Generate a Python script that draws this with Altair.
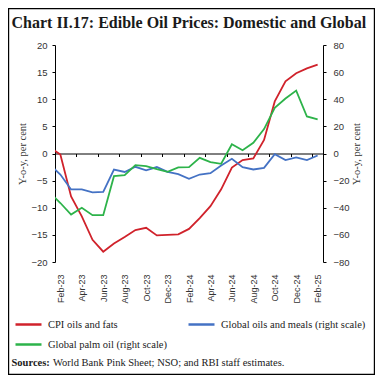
import altair as alt
import pandas as pd

# ---- data ----
months = ["Jan-23", "Feb-23", "Mar-23", "Apr-23", "May-23", "Jun-23", "Jul-23", "Aug-23",
          "Sep-23", "Oct-23", "Nov-23", "Dec-23", "Jan-24", "Feb-24", "Mar-24", "Apr-24",
          "May-24", "Jun-24", "Jul-24", "Aug-24", "Sep-24", "Oct-24", "Nov-24", "Dec-24",
          "Jan-25", "Feb-25"]
cpi_oils_fats = [1.2, -0.2, -7.9, -11.6, -15.9, -18.1, -16.6, -15.4, -14.1, -13.7, -15.1, -15.0,
                 -14.9, -13.9, -11.9, -9.7, -6.6, -2.6, -1.2, -0.9, 2.5, 9.6, 13.3, 14.8, 15.7, 16.4]
global_oils_meals = [-8.0, -15.5, -26.5, -26.5, -28.7, -28.3, -11.8, -13.6, -9.8, -12.4, -10.0, -13.5,
                     -15.2, -18.7, -15.5, -14.5, -8.8, -3.9, -10.1, -11.8, -10.6, -0.5, -4.9, -2.9,
                     -4.9, -1.5]
global_palm_oil = [-28.7, -36.5, -45.0, -40.0, -45.5, -45.5, -16.7, -16.0, -8.6, -9.3, -11.5, -13.5,
                   -10.3, -10.0, -3.2, -6.4, -7.6, 6.8, 2.4, 7.9, 18.0, 33.7, 40.5, 46.4, 27.3, 25.1]

series_cpi = "CPI oils and fats"
series_meals = "Global oils and meals (right scale)"
series_palm = "Global palm oil (right scale)"
# legend fills column by column: column 1 = CPI, palm ; column 2 = meals
legend_order = [series_cpi, series_palm, series_meals]
legend_colors = ["#D0222B", "#2DB34A", "#4472C4"]

left_ticks = [-20, -15, -10, -5, 0, 5, 10, 15, 20]
right_ticks = [-80, -60, -40, -20, 0, 20, 40, 60, 80]

title_text = "Chart II.17: Edible Oil Prices: Domestic and Global"
source_bold = "Sources:"
source_rest = "World Bank Pink Sheet; NSO; and RBI staff estimates."

# ---- tables ----
idx = list(range(-1, len(months) - 1))   # Feb-23 -> 0
left_df = pd.DataFrame({"idx": idx, "value": cpi_oils_fats, "series": series_cpi})
right_df = pd.concat([
    pd.DataFrame({"idx": idx, "value": global_oils_meals, "series": series_meals}),
    pd.DataFrame({"idx": idx, "value": global_palm_oil, "series": series_palm}),
])

shown = months[1:]
label_values = list(range(0, len(shown), 2))
label_expr = "[" + ",".join("'" + m + "'" for m in shown) + "][datum.value]"
boundary_ticks = [i - 0.5 for i in range(0, len(shown) + 1, 2)]

W, H = 268, 217
x_scale = alt.Scale(domain=[-0.5, len(shown) - 0.5], nice=False, zero=False)
color_scale = alt.Scale(domain=legend_order, range=legend_colors)

SANS = "Liberation Sans"
SERIF = "Liberation Serif"
TXT = "#333333"

legend = alt.Legend(
    title=None, orient="none", legendX=-41, legendY=265, columns=2, direction="vertical",
    symbolType="stroke", symbolSize=676, symbolStrokeWidth=2.5,
    labelFont=SERIF, labelFontSize=10.5, labelColor="#222222", labelOffset=5,
    columnPadding=16, rowPadding=-7.5, labelLimit=300,
)

red = alt.Chart(left_df).mark_line(strokeWidth=1.8, clip=True).encode(
    x=alt.X("idx:Q", scale=x_scale,
            axis=alt.Axis(orient="bottom", values=label_values, labelExpr=label_expr,
                          labelAngle=270, ticks=False, domain=False, grid=False,
                          labelPadding=12, labelFont=SANS, labelFontSize=9,
                          labelColor=TXT, title=None)),
    y=alt.Y("value:Q", scale=alt.Scale(domain=[-20, 20], nice=False),
            axis=alt.Axis(values=left_ticks, tickSize=3, tickColor="black", domainColor="black",
                          grid=False, labelFont=SANS, labelFontSize=9.5, labelColor=TXT,
                          labelPadding=5, title="Y-o-y, per cent", titleFont=SERIF,
                          titleFontSize=10.5, titleFontWeight="normal", titleColor=TXT,
                          titlePadding=3)),
    color=alt.Color("series:N", scale=color_scale, legend=legend),
)

right = alt.Chart(right_df).mark_line(strokeWidth=1.8, clip=True).encode(
    x=alt.X("idx:Q", scale=x_scale,
            axis=alt.Axis(orient="bottom", offset=-H / 2, values=boundary_ticks, labels=False,
                          tickSize=3, tickColor="black", domainColor="black", grid=False,
                          title=None)),
    y=alt.Y("value:Q", scale=alt.Scale(domain=[-80, 80], nice=False),
            axis=alt.Axis(orient="right", values=right_ticks, tickSize=3, tickColor="black",
                          domainColor="black", grid=False, labelFont=SANS, labelFontSize=9.5,
                          labelColor=TXT, labelPadding=7, title="Y-o-y, per cent",
                          titleFont=SERIF, titleFontSize=10.5, titleFontWeight="normal",
                          titleColor=TXT, titlePadding=2, titleAngle=270,
                          titleBaseline="top")),
    color=alt.Color("series:N", scale=color_scale, legend=legend),
    detail="series:N",
)

one = pd.DataFrame({"t": [title_text], "b": [source_bold], "r": [source_rest]})

title = alt.Chart(one).mark_text(font=SERIF, fontSize=16, fontWeight="bold", align="left",
                                 baseline="alphabetic", color="#1a1a1a").encode(
    x=alt.value(-43.5), y=alt.value(-17), text="t:N")
src_b = alt.Chart(one).mark_text(font=SERIF, fontSize=10.5, fontWeight="bold", align="left",
                                 baseline="middle", color="#1a1a1a").encode(
    x=alt.value(-43.5), y=alt.value(318), text="b:N")
src_r = alt.Chart(one).mark_text(font=SERIF, fontSize=10.5, align="left",
                                 baseline="middle", color="#1a1a1a").encode(
    x=alt.value(-2), y=alt.value(318), text="r:N")
border = alt.Chart(one).mark_rect(fillOpacity=0, stroke="black", strokeWidth=1.2).encode(
    x=alt.value(-46.4), x2=alt.value(319.4), y=alt.value(-36.4), y2=alt.value(329.4))

chart = alt.layer(red, right, title, src_b, src_r, border).resolve_scale(
    y="independent"
).resolve_axis(
    x="independent", y="independent"
).properties(
    width=W, height=H,
    autosize=alt.AutoSizeParams(type="none"),
    padding={"left": 47, "top": 37, "right": 52, "bottom": 113},
).configure_view(strokeWidth=0)

chart.save("out.html", embed_options={"renderer": "svg", "actions": False})
